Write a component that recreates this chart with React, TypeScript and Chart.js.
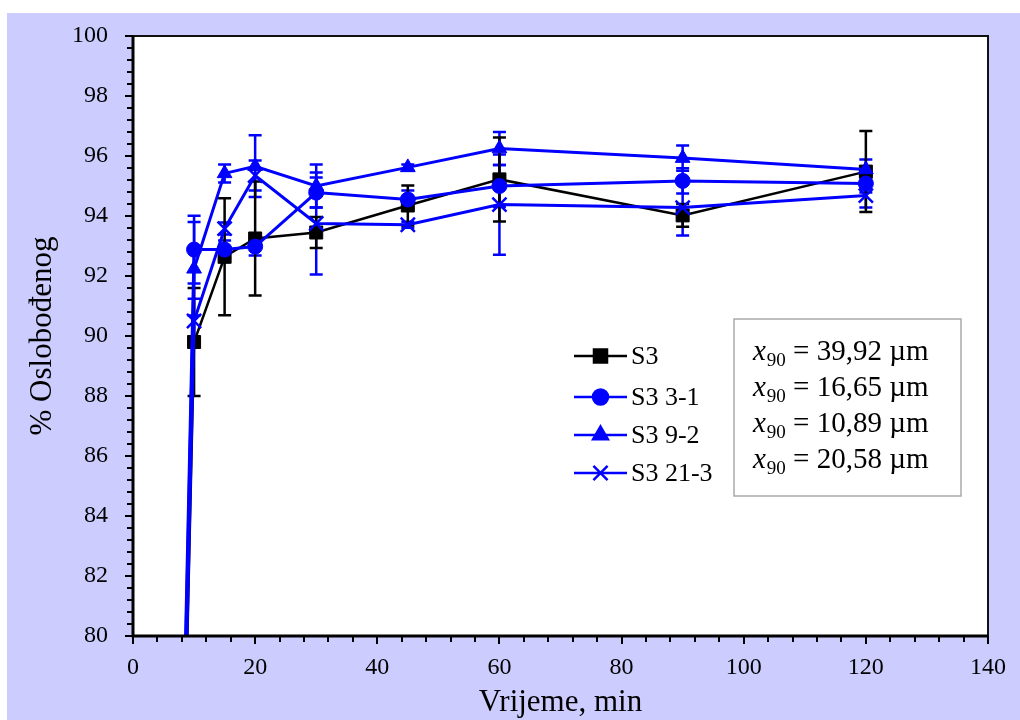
import React, { useEffect, useRef } from "react";
import { Chart, registerables } from "chart.js";
import { drawPoint } from "chart.js/helpers";

Chart.register(...registerables);

// ---------- data ----------
const times = [10, 15, 20, 30, 45, 60, 90, 120];

const s3 = [89.8, 92.64, 93.25, 93.45, 94.35, 95.22, 94.02, 95.48];
const s3Err = [1.8, 1.95, 1.9, 0.52, 0.67, 1.4, 0.38, 1.35];

const s3_3_1 = [92.88, 92.88, 92.98, 94.78, 94.55, 95.0, 95.17, 95.08];
const s3_3_1Err = [1.13, 0.3, 0.3, 0.5, 0.3, 0.7, 0.42, 0.3];

const s3_9_2 = [92.24, 95.42, 95.66, 95.0, 95.62, 96.25, 95.93, 95.55];
const s3_9_2Err = [1.56, 0.3, 1.03, 0.72, 0.1, 0.55, 0.42, 0.33];

const s3_21_3 = [90.5, 93.58, 95.35, 93.75, 93.71, 94.38, 94.28, 94.68];
const s3_21_3Err = [0.74, 0.2, 0.5, 1.7, 0.1, 1.67, 0.93, 0.4];

const seriesNames = ["S3", "S3 3-1", "S3 9-2", "S3 21-3"];
const x90Labels = ["39,92", "16,65", "10,89", "20,58"];

const xTitle = "Vrijeme, min";
const yTitle = "% Oslobođenog";

const X_MIN = 0, X_MAX = 140, X_STEP = 20, X_MINOR = 4;
const Y_MIN = 80, Y_MAX = 100, Y_STEP = 2, Y_MINOR = 0.4;

// ---------- styles ----------
const FONT = '"Liberation Serif", "Times New Roman", serif';
const BLUE = "#0000ff";
const BLACK = "#000000";

const styles = [
  { color: BLACK, pointStyle: "rect", radius: 9.2, lineWidth: 2.5, order: 4 },
  { color: BLUE, pointStyle: "circle", radius: 7.5, lineWidth: 3, order: 3 },
  { color: BLUE, pointStyle: "triangle", radius: 8.5, lineWidth: 3, order: 2 },
  { color: BLUE, pointStyle: "crossRot", radius: 10, lineWidth: 3, order: 1 },
];

const allValues = [s3, s3_3_1, s3_9_2, s3_21_3];
const allErrors = [s3Err, s3_3_1Err, s3_9_2Err, s3_21_3Err];

const decorPlugin = {
  id: "decor",
  beforeDraw(chart: any) {
    const { ctx, chartArea: a } = chart;
    ctx.save();
    ctx.fillStyle = "#ffffff";
    ctx.fillRect(a.left, a.top, a.right - a.left, a.bottom - a.top);
    ctx.restore();
  },
  beforeDatasetsDraw(chart: any) {
    const { ctx, chartArea: a, scales } = chart;
    const xs = scales.x, ys = scales.y;
    ctx.save();
    ctx.beginPath();
    ctx.rect(a.left, a.top, a.right - a.left, a.bottom - a.top);
    ctx.clip();
    for (let i = allValues.length - 1; i >= 0; i--) {
      const vals = allValues[i];
      const errs = allErrors[i];
      ctx.strokeStyle = styles[i].color;
      ctx.lineWidth = 2.5;
      for (let j = 0; j < times.length; j++) {
        const px = xs.getPixelForValue(times[j]);
        const yt = ys.getPixelForValue(vals[j] + errs[j]);
        const yb = ys.getPixelForValue(vals[j] - errs[j]);
        ctx.beginPath();
        ctx.moveTo(px, yt);
        ctx.lineTo(px, yb);
        ctx.moveTo(px - 6.5, yt);
        ctx.lineTo(px + 6.5, yt);
        ctx.moveTo(px - 6.5, yb);
        ctx.lineTo(px + 6.5, yb);
        ctx.stroke();
      }
    }
    ctx.restore();
  },
  afterDraw(chart: any) {
    const { ctx, chartArea: a, scales } = chart;
    const xs = scales.x, ys = scales.y;
    ctx.save();
    // frame
    ctx.strokeStyle = "#111111";
    ctx.lineWidth = 2;
    ctx.strokeRect(a.left, a.top, a.right - a.left, a.bottom - a.top);
    ctx.strokeStyle = BLACK;
    ctx.lineWidth = 3;
    ctx.beginPath();
    ctx.moveTo(a.left, a.top);
    ctx.lineTo(a.left, a.bottom);
    ctx.lineTo(a.right, a.bottom);
    ctx.stroke();

    // ticks
    ctx.lineWidth = 2;
    const nx = Math.round((X_MAX - X_MIN) / X_MINOR);
    const perX = Math.round(X_STEP / X_MINOR);
    for (let k = 0; k <= nx; k++) {
      const px = Math.round(xs.getPixelForValue(X_MIN + k * X_MINOR));
      const len = k % perX === 0 ? 8 : 6;
      ctx.beginPath();
      ctx.moveTo(px, a.bottom);
      ctx.lineTo(px, a.bottom + len);
      ctx.stroke();
    }
    const ny = Math.round((Y_MAX - Y_MIN) / Y_MINOR);
    const perY = Math.round(Y_STEP / Y_MINOR);
    for (let k = 0; k <= ny; k++) {
      const py = Math.round(ys.getPixelForValue(Y_MIN + k * Y_MINOR));
      const len = k % perY === 0 ? 8 : 6;
      ctx.beginPath();
      ctx.moveTo(a.left, py);
      ctx.lineTo(a.left - len, py);
      ctx.stroke();
    }

    // axis titles
    ctx.fillStyle = BLACK;
    ctx.font = `31px ${FONT}`;
    ctx.textAlign = "center";
    ctx.textBaseline = "alphabetic";
    ctx.fillText(xTitle, (a.left + a.right) / 2, 698);
    ctx.save();
    ctx.translate(44, (a.top + a.bottom) / 2);
    ctx.rotate(-Math.PI / 2);
    ctx.fillText(yTitle, 0, 0);
    ctx.restore();

    // legend
    const legX0 = 567, legX1 = 620, legTextX = 624;
    const legY = [343, 384, 422, 460];
    ctx.font = `26px ${FONT}`;
    ctx.textAlign = "left";
    ctx.textBaseline = "middle";
    for (let i = 0; i < seriesNames.length; i++) {
      const st = styles[i];
      const y = legY[i];
      ctx.strokeStyle = st.color;
      ctx.fillStyle = st.color;
      ctx.lineWidth = 2.5;
      ctx.beginPath();
      ctx.moveTo(legX0, y);
      ctx.lineTo(legX1, y);
      ctx.stroke();
      const r = st.pointStyle === "crossRot" ? 10 : st.radius;
      drawPoint(ctx, { pointStyle: st.pointStyle, radius: r, rotation: 0, borderWidth: st.pointStyle === "crossRot" ? 2 : 1 }, (legX0 + legX1) / 2, y);
      ctx.fillStyle = BLACK;
      ctx.fillText(seriesNames[i], legTextX, y + 1);
    }

    // x90 box
    const bx0 = 727, by0 = 306, bx1 = 954, by1 = 483;
    ctx.fillStyle = "#ffffff";
    ctx.fillRect(bx0, by0, bx1 - bx0, by1 - by0);
    ctx.strokeStyle = "#aaaaaa";
    ctx.lineWidth = 1.5;
    ctx.strokeRect(bx0, by0, bx1 - bx0, by1 - by0);
    const baselines = [347, 383, 419, 455];
    ctx.fillStyle = BLACK;
    ctx.textBaseline = "alphabetic";
    for (let i = 0; i < x90Labels.length; i++) {
      let x = 746;
      const y = baselines[i];
      ctx.font = `italic 29px ${FONT}`;
      ctx.fillText("x", x, y);
      x += ctx.measureText("x").width + 1;
      ctx.font = `19px ${FONT}`;
      ctx.fillText("90", x, y + 6);
      x += ctx.measureText("90").width;
      ctx.font = `29px ${FONT}`;
      ctx.fillText(` = ${x90Labels[i]} µm`, x, y);
    }
    ctx.restore();
  },
};

export default function App() {
  const canvasRef = useRef<HTMLCanvasElement | null>(null);

  useEffect(() => {
    const canvas = canvasRef.current;
    if (!canvas) return;
    const datasets = allValues.map((vals, i) => {
      const st = styles[i];
      const data = [{ x: 0, y: 0 }, ...times.map((t, j) => ({ x: t, y: vals[j] }))];
      return {
        label: seriesNames[i],
        data,
        borderColor: st.color,
        backgroundColor: st.color,
        borderWidth: st.lineWidth,
        pointStyle: st.pointStyle,
        pointRadius: data.map((_, j) => (j === 0 ? 0 : st.radius)),
        pointBackgroundColor: st.color,
        pointBorderColor: st.color,
        pointBorderWidth: st.pointStyle === "crossRot" ? 2.5 : 1,
        tension: 0,
        fill: false,
        order: st.order,
      };
    });

    const chart = new Chart(canvas, {
      type: "line",
      data: { datasets },
      plugins: [decorPlugin],
      options: {
        animation: false,
        responsive: false,
        maintainAspectRatio: false,
        layout: { autoPadding: false, padding: { top: 23, right: 32, left: 0, bottom: 0 } },
        plugins: { legend: { display: false }, tooltip: { enabled: false } },
        events: [],
        scales: {
          x: {
            type: "linear",
            min: X_MIN,
            max: X_MAX,
            grid: { display: false, drawTicks: false },
            border: { display: false },
            ticks: {
              stepSize: X_STEP,
              color: BLACK,
              font: { family: FONT, size: 24 },
              padding: 17,
              maxRotation: 0,
            },
            afterFit(scale: any) {
              scale.height = 84;
              scale.paddingRight = 0;
              scale.paddingLeft = 0;
            },
          },
          y: {
            type: "linear",
            min: Y_MIN,
            max: Y_MAX,
            grid: { display: false, drawTicks: false },
            border: { display: false },
            ticks: {
              stepSize: Y_STEP,
              color: BLACK,
              font: { family: FONT, size: 24 },
              padding: 25,
            },
            afterFit(scale: any) {
              scale.width = 126;
              scale.paddingTop = 0;
              scale.paddingBottom = 0;
            },
          },
        },
      },
    } as any);
    return () => chart.destroy();
  }, []);

  return (
    <div
      style={{
        position: "absolute",
        left: 7,
        top: 13,
        width: 1013,
        height: 707,
        background: "#ccccff",
      }}
    >
      <canvas ref={canvasRef} width={1013} height={707} style={{ display: "block" }} />
    </div>
  );
}
